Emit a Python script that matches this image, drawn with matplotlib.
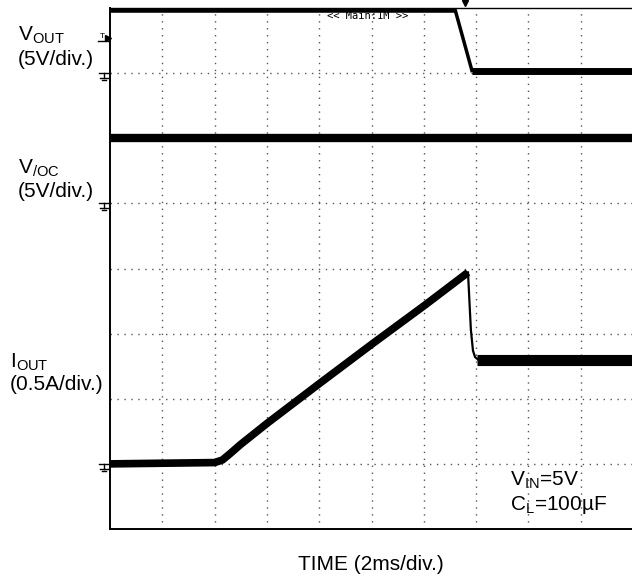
import matplotlib
matplotlib.use("Agg")
import numpy as np
import matplotlib.pyplot as plt

plt.rcParams['font.family'] = ['Liberation Sans', 'DejaVu Sans']
plt.rcParams['mathtext.fontset'] = 'custom'
plt.rcParams['mathtext.rm'] = 'Liberation Sans'

# Scope traces (time in ms, 2 ms/div)
vout_t = [0.0, 13.2, 13.84, 20.0]
vout_v = [4.85, 4.85, 0.2, 0.2]          # volts, 5 V/div

voc_t = [0.0, 20.0]
voc_v = [5.0, 5.0]                       # volts, 5 V/div

iout_ramp_t = [0.0, 4.0, 4.3, 4.6, 5.0, 6.0, 8.03, 10.02, 12.05, 13.69]
iout_ramp_a = [0.0, 0.01, 0.03, 0.08, 0.15, 0.31, 0.62, 0.92, 1.22, 1.47]
iout_drop_t = [13.69, 13.80, 13.88, 13.96, 14.08]
iout_drop_a = [1.47, 1.03, 0.87, 0.82, 0.80]
iout_flat_t = [14.02, 20.0]
iout_flat_a = [0.80, 0.80]               # amps, 0.5 A/div

# channel ground levels (div) and scales
gnd = {'vout': 7, 'voc': 5, 'iout': 1}
scale = {'vout': 5.0, 'voc': 5.0, 'iout': 0.5}

def to_div(ch, vals):
    return gnd[ch] + np.asarray(vals) / scale[ch]

fig = plt.figure(figsize=(6.32, 5.78), dpi=100)
ax = fig.add_axes([110 / 632, 49 / 578, 523 / 632, 521 / 578])
ax.set_xlim(0, 20)
ax.set_ylim(0, 8)

# dotted graticule
for k in range(1, 10):
    ax.axvline(2 * k, color='#555555', lw=1.0, ls=(0, (1, 4)), zorder=1)
for k in range(1, 8):
    ax.axhline(k, color='#555555', lw=1.0, ls=(0, (1, 4)), zorder=1)

ax.plot(vout_t[:2], to_div('vout', vout_v[:2]), color='black', lw=4, solid_capstyle='butt', zorder=3)
ax.plot(vout_t[1:3], to_div('vout', vout_v[1:3]), color='black', lw=2.5, zorder=3)
ax.plot(vout_t[2:], to_div('vout', vout_v[2:]), color='black', lw=5, solid_capstyle='butt', zorder=3)

ax.plot(voc_t, to_div('voc', voc_v), color='black', lw=6, solid_capstyle='butt', zorder=3)

ax.plot(iout_ramp_t, to_div('iout', iout_ramp_a), color='black', lw=5.5,
        solid_capstyle='butt', solid_joinstyle='round', zorder=3)
ax.plot(iout_drop_t, to_div('iout', iout_drop_a), color='black', lw=1.6, zorder=3)
ax.plot(iout_flat_t, to_div('iout', iout_flat_a), color='black', lw=8, solid_capstyle='butt', zorder=3)

for s in ['left', 'bottom']:
    ax.spines[s].set_linewidth(1.4)
ax.spines['top'].set_linewidth(1.0)
ax.spines['right'].set_visible(False)
ax.set_xticks([])
ax.set_yticks([])

# ground markers on the left edge
px = 2.0 / 52.3   # ms per pixel
py = 1.0 / 65.1   # div per pixel
for ch in gnd:
    g = gnd[ch]
    ax.plot([-11 * px, 0], [g, g], color='black', lw=1, clip_on=False)
    ax.plot([-6 * px, -6 * px], [g, g - 5 * py], color='black', lw=1, clip_on=False)
    ax.plot([-10 * px, -2 * px], [g - 5 * py, g - 5 * py], color='black', lw=1, clip_on=False)
    ax.plot([-8 * px, -4 * px], [g - 7 * py, g - 7 * py], color='black', lw=1, clip_on=False)

# trigger level marker
ax.text(-8 * px, 7.56, 'T', fontsize=6, ha='center', va='center', clip_on=False)
ax.plot([-12 * px, -1 * px], [7.56 - 4 * py] * 2, color='black', lw=1, clip_on=False)
ax.plot([-2 * px], [7.56 - 1 * py], marker='>', color='black', ms=4, clip_on=False)
# trigger position marker
ax.plot([13.58], [8 + 5 * py], marker='v', color='black', ms=4, clip_on=False)

ax.text(8.3, 7.88, '<< Main:1M >>', family='DejaVu Sans Mono', fontsize=7.5,
        va='center', ha='left', zorder=4)

def ftext(x, y, s, **kw):
    fig.text(x / 632, 1 - y / 578, s, fontsize=15, va='baseline', **kw)

ftext(18, 40, r'V$_{\mathrm{OUT}}$')
ftext(18, 65, '(5V/div.)')
ftext(18, 173, r'V$_{\mathrm{/OC}}$')
ftext(18, 197, '(5V/div.)')
ftext(10, 367, r'I$_{\mathrm{OUT}}$')
ftext(10, 390, '(0.5A/div.)')
ftext(510, 485, r'V$_{\mathrm{IN}}$=5V')
ftext(510, 510, r'C$_{\mathrm{L}}$=100µF')
ftext(371, 570, 'TIME (2ms/div.)', ha='center')

fig.savefig('out.png', dpi=100)
